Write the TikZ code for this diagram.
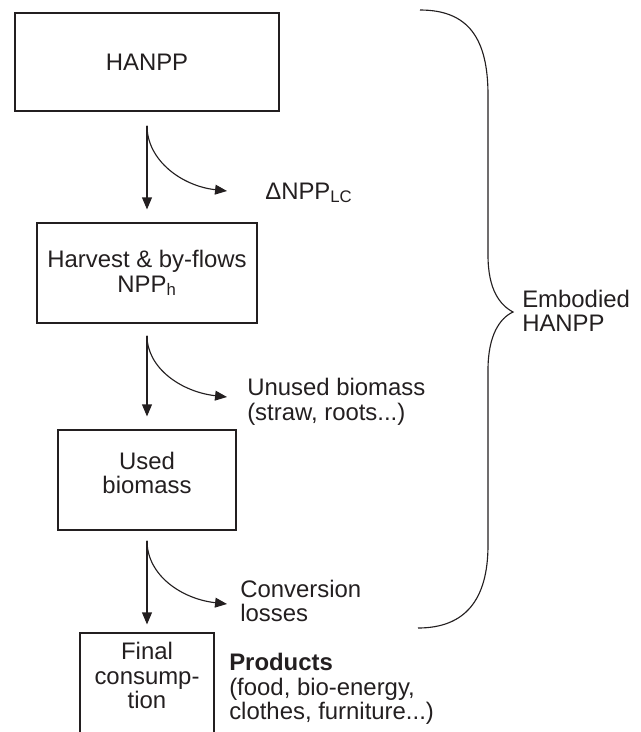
\documentclass[tikz,border=0pt]{standalone}
\usepackage{fontspec}
\setmainfont{Liberation Sans}
\usetikzlibrary{arrows.meta, positioning, calc}
\definecolor{ink}{HTML}{231F20}

\begin{document}
\begin{tikzpicture}[
    x=0.025cm, y=-0.025cm,
    font=\fontsize{17}{17.4}\selectfont,
    stage/.style={rectangle, draw=ink, line width=0.8pt, text=ink, align=center, inner sep=0pt},
    note/.style={text=ink, align=left, anchor=west, inner sep=0pt},
    flow/.style={-{Triangle[length=8.5pt, width=7pt]}, draw=ink, line width=0.8pt},
    bracket/.style={draw=ink, line width=0.8pt}
]

% Frame
\useasboundingbox (0,0) rectangle (640,732);
\clip (0,0) rectangle (640,732);

% Stages of the biomass chain
\node[stage, minimum width=6.6cm, minimum height=2.45cm] (hanpp) at (147,62) {HANPP};
\node[stage, minimum width=5.5cm, minimum height=2.5cm] (harvest) at (147,273) {Harvest \& by-flows\\NPP\textsubscript{h}};
\node[stage, minimum width=4.45cm, minimum height=2.5cm] (used) at (147,480) {Used\\biomass\\[-7pt]\mbox{}};
\node[stage, minimum width=3.35cm, minimum height=2.55cm] (final) at (147,684) {Final\\consump-\\tion\\[-5.7pt]\mbox{}};

% Losses on the way
\node[note] (lc) at (265,193) {ΔNPP\textsubscript{LC}};
\node[note] (unused) at (247,402) {Unused biomass\\(straw, roots...)};
\node[note] (losses) at (240,601) {Conversion\\losses};
\node[note] (products) at (229,689) {\textbf{Products}\\(food, bio-energy,\\clothes, furniture...)};

% Tips of the side flows
\coordinate (lctip) at (227,191);
\coordinate (unusedtip) at (227,397);
\coordinate (lossestip) at (227,604);

% Main flow
\draw[flow, shorten <=0.35cm, shorten >=0.325cm] (hanpp) -- (harvest);
\draw[flow, shorten <=0.3cm, shorten >=0.325cm] (harvest) -- (used);
\draw[flow, shorten <=0.25cm, shorten >=0.2cm] (used) -- (final);

% Side flows
\draw[flow] ($(hanpp.south)+(0,14)$) .. controls +(0,35) and +(-45,-5) .. (lctip);
\draw[flow] ($(harvest.south)+(0,12)$) .. controls +(0,33) and +(-45,-5) .. (unusedtip);
\draw[flow] ($(used.south)+(0,10)$) .. controls +(0,35) and +(-45,-5) .. (lossestip);

% Brace
\node[note] (embodied) at (522,311) {Embodied\\HANPP};
\draw[bracket] (420,10) .. controls (468,10) and (488,38) .. (488,95) -- (488,255)
    .. controls (488,290) and (500,305) .. (513,312)
    .. controls (500,318) and (488,335) .. (488,370) -- (488,545)
    .. controls (488,600) and (465,628) .. (418,628);

\end{tikzpicture}
\end{document}
